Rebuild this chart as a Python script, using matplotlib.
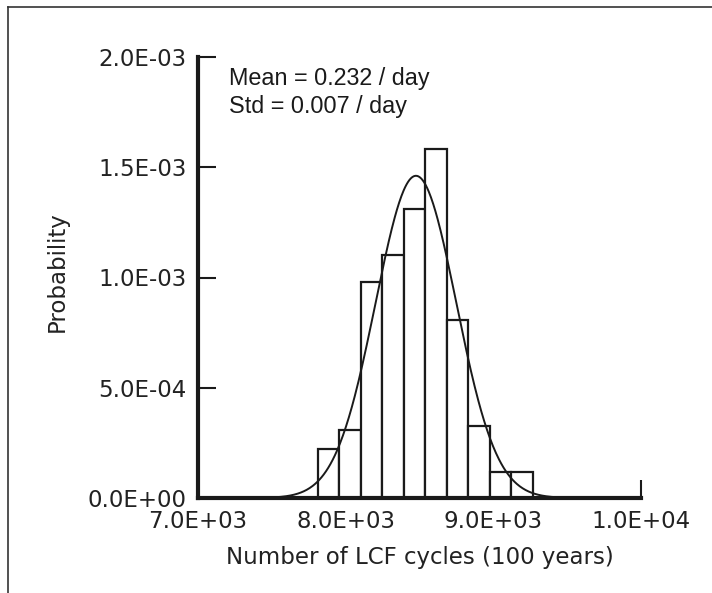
import numpy as np
import matplotlib
matplotlib.use("Agg")
import matplotlib.pyplot as plt
from matplotlib.lines import Line2D

# Histogram of LCF cycle counts (probability density per bin)
bin_start = 7810.0
bin_width = 145.8
bar_heights = [2.22e-4, 3.08e-4, 9.80e-4, 1.10e-3, 1.309e-3,
               1.582e-3, 8.08e-4, 3.26e-4, 1.19e-4, 1.19e-4]

# Fitted normal distribution
fit_mean = 8476.0
fit_std = 273.0

x_ticks = [7000, 8000, 9000, 10000]
x_tick_labels = ["7.0E+03", "8.0E+03", "9.0E+03", "1.0E+04"]
y_ticks = [0.0, 5e-4, 1e-3, 1.5e-3, 2e-3]
y_tick_labels = ["0.0E+00", "5.0E-04", "1.0E-03", "1.5E-03", "2.0E-03"]

fig = plt.figure(figsize=(7.12, 5.93), dpi=100)
W, H = 712, 593
ax = fig.add_axes([198 / W, 1 - 498 / H, (641 - 198) / W, (498 - 57) / H])

edges = bin_start + bin_width * np.arange(len(bar_heights))
ax.bar(edges, bar_heights, width=bin_width, align="edge",
       facecolor="white", edgecolor="#1a1a1a", linewidth=1.6, zorder=2)

xs = np.linspace(7000, 10000, 600)
pdf = np.exp(-0.5 * ((xs - fit_mean) / fit_std) ** 2) / (fit_std * np.sqrt(2 * np.pi))
ax.plot(xs, pdf, color="#1a1a1a", linewidth=1.4, zorder=3)

ax.set_xlim(7000, 10000)
ax.set_ylim(0, 2e-3)
ax.set_xticks(x_ticks)
ax.set_xticklabels(x_tick_labels)
ax.set_yticks(y_ticks)
ax.set_yticklabels(y_tick_labels)

for side in ("top", "right"):
    ax.spines[side].set_visible(False)
for side in ("left", "bottom"):
    ax.spines[side].set_linewidth(3)
    ax.spines[side].set_color("#1a1a1a")
    ax.spines[side].set_zorder(4)

ax.tick_params(axis="both", direction="in", length=13, width=1.5,
               color="#1a1a1a", labelsize=16.5, labelcolor="#222222", pad=8)
ax.tick_params(axis="x", pad=9)

ax.set_xlabel("Number of LCF cycles (100 years)", fontsize=16.5,
              color="#222222", labelpad=9)
ax.set_ylabel("Probability", fontsize=16.5, color="#222222")
ax.yaxis.set_label_coords(-0.291, 0.514)

ax.text(0.07, 0.977, "Mean = 0.232 / day\nStd = 0.007 / day",
        transform=ax.transAxes, family="Liberation Sans", fontsize=16.8,
        color="#1a1a1a", va="top", ha="left", linespacing=1.28)

# Frame lines along the top and left edges of the figure
fig.add_artist(Line2D([8 / W, 1.0], [1 - 7 / H, 1 - 7 / H],
                      transform=fig.transFigure, color="#333333", linewidth=1.2))
fig.add_artist(Line2D([8 / W, 8 / W], [0.0, 1 - 7 / H],
                      transform=fig.transFigure, color="#333333", linewidth=1.2))

fig.savefig("out.png", dpi=100, facecolor="white")
